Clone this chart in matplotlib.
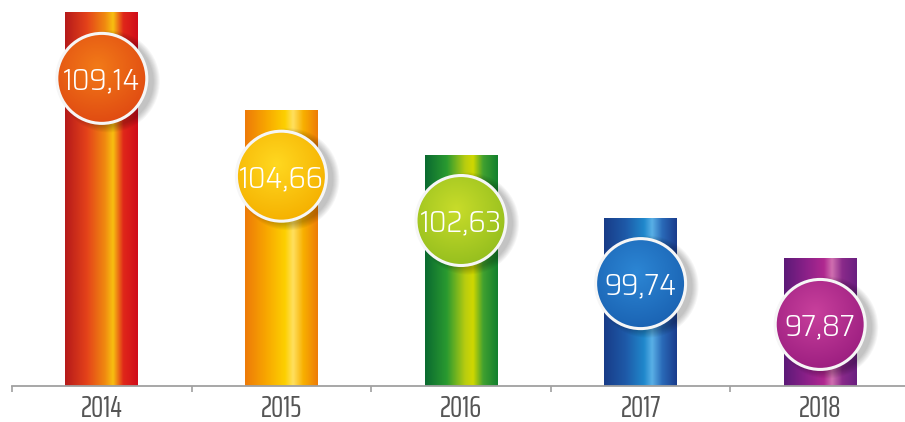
import numpy as np
import matplotlib.pyplot as plt
from matplotlib.colors import LinearSegmentedColormap, to_rgb
from matplotlib.patches import Ellipse

years = ['2014', '2015', '2016', '2017', '2018']
values = [109.14, 104.66, 102.63, 99.74, 97.87]

# horizontal shading of each bar, left to right
bar_stops = [
    ['#b51a1a', '#e4421a', '#f08a10', '#f8c010', '#e0281a', '#d00c1a'],
    ['#ee7a08', '#f8a800', '#fdd000', '#ffe060', '#f8b000', '#ee7c08'],
    ['#0a6a30', '#2a9a30', '#b8cc10', '#d0d800', '#40a030', '#12802e'],
    ['#183c88', '#1e5aa8', '#2088cc', '#5ab0e6', '#2a6ab8', '#1a3c8c'],
    ['#5c1a78', '#8a2088', '#b02890', '#d070b0', '#8a2a8a', '#6a1f80'],
]
stop_pos = [0.0, 0.3, 0.55, 0.66, 0.8, 1.0]
# badge colours: (edge, centre)
badge = [
    ('#e04a12', '#f27a18'),
    ('#f5b000', '#ffd820'),
    ('#94be1e', '#c8dc2a'),
    ('#1a62b2', '#2c86d4'),
    ('#9c1e80', '#c8409c'),
]

W, H = 905, 422
fig = plt.figure(figsize=(W / 100, H / 100), dpi=100)
ax = fig.add_axes([12 / W, 36 / H, 898 / W, 386 / H])
ymin, ymax = 92.05, 109.73
px_x = 5.0 / 898
px_y = (ymax - ymin) / 386

bw = 0.406
grad = np.linspace(0, 1, 256)[np.newaxis, :]
badge_font = ['Saira SemiCondensed', 'DejaVu Sans']
year_font = ['Saira ExtraCondensed', 'DejaVu Sans']

for i, v in enumerate(values):
    cmap = LinearSegmentedColormap.from_list('b%d' % i, list(zip(stop_pos, bar_stops[i])))
    ax.imshow(grad, cmap=cmap, extent=[i - bw / 2, i + bw / 2, ymin, v],
              aspect='auto', zorder=2, interpolation='bicubic')

    # round badge with value
    cy = v - 3.0
    ex, ey = 90 * px_x, 90 * px_y
    for k in range(7):
        ax.add_patch(Ellipse((i + 7 * px_x, cy - 3 * px_y),
                             ex + 2 * k * px_x, ey + 2 * k * px_y,
                             facecolor='black', alpha=0.035, lw=0, zorder=3))
    uu, vv = np.meshgrid(np.linspace(-1, 1, 120), np.linspace(1, -1, 120))
    d = np.clip(np.hypot(uu + 0.1, vv - 0.25) / 1.3, 0, 1)[..., None]
    c_edge = np.array(to_rgb(badge[i][0]))
    c_mid = np.array(to_rgb(badge[i][1]))
    img = c_mid * (1 - d) + c_edge * d
    clip = Ellipse((i, cy), ex, ey, facecolor='none', lw=0)
    ax.add_patch(clip)
    im = ax.imshow(img, extent=[i - ex / 2, i + ex / 2, cy - ey / 2, cy + ey / 2],
                   aspect='auto', zorder=4, interpolation='bicubic')
    im.set_clip_path(clip)
    ax.add_patch(Ellipse((i, cy), ex, ey, facecolor='none',
                         edgecolor='#f6f6f6', lw=2.2, zorder=5))
    label = ('%.2f' % v).replace('.', ',')
    ax.text(i, cy - 11 * px_y, label, ha='center', va='baseline',
            color='white', fontsize=22, family=badge_font, fontweight=300,
            zorder=6)

ax.set_xlim(-0.5, 4.5)
ax.set_ylim(ymin, ymax)

for s in ['top', 'left', 'right']:
    ax.spines[s].set_visible(False)
ax.spines['bottom'].set_color('#a0a0a0')
ax.spines['bottom'].set_linewidth(1.3)
ax.spines['bottom'].set_zorder(7)
ax.set_yticks([])

ax.set_xticks(np.arange(-0.5, 5, 1))
ax.set_xticklabels([])
ax.set_xticks(range(len(years)), minor=True)
ax.set_xticklabels(years, minor=True, family=year_font)
ax.tick_params(axis='x', which='major', length=4.5, width=1.2, color='#a0a0a0')
ax.tick_params(axis='x', which='minor', length=0, pad=6, labelsize=22,
               labelcolor='#555555')

fig.savefig('out.png', dpi=100)
